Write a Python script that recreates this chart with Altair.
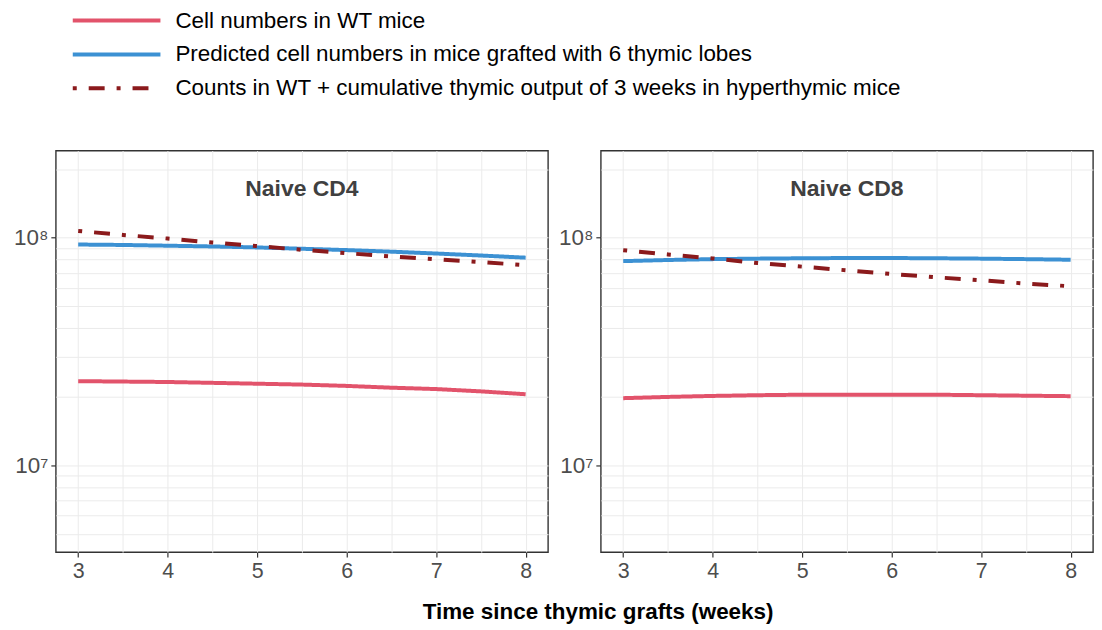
import altair as alt
import pandas as pd

weeks = [3, 3.5, 4, 4.5, 5, 5.5, 6, 6.5, 7, 7.5, 8]
panels = ["Naive CD4", "Naive CD8"]
series_names = [
    "Cell numbers in WT mice",
    "Predicted cell numbers in mice grafted with 6 thymic lobes",
    "Counts in WT + cumulative thymic output of 3 weeks in hyperthymic mice",
]
series_colors = ["#E2536B", "#3C91D3", "#8B1A1C"]
series_dashes = [[1, 0], [1, 0], [4, 12, 16, 12]]

cd4_wt = [2.34e7, 2.33e7, 2.32e7, 2.30e7, 2.28e7, 2.26e7, 2.23e7, 2.19e7, 2.16e7, 2.11e7, 2.05e7]
cd4_grafted = [9.32e7, 9.28e7, 9.21e7, 9.14e7, 9.05e7, 8.93e7, 8.81e7, 8.67e7, 8.51e7, 8.34e7, 8.16e7]
cd4_output = [1.069e8, 1.027e8, 9.90e7, 9.51e7, 9.17e7, 8.84e7, 8.54e7, 8.26e7, 8.02e7, 7.80e7, 7.57e7]
cd8_wt = [1.97e7, 1.995e7, 2.015e7, 2.03e7, 2.04e7, 2.04e7, 2.04e7, 2.04e7, 2.03e7, 2.02e7, 2.01e7]
cd8_grafted = [7.88e7, 7.97e7, 8.04e7, 8.08e7, 8.11e7, 8.13e7, 8.13e7, 8.11e7, 8.08e7, 8.04e7, 7.99e7]
cd8_output = [8.80e7, 8.43e7, 8.10e7, 7.73e7, 7.45e7, 7.18e7, 6.92e7, 6.69e7, 6.49e7, 6.28e7, 6.11e7]

x_ticks = [3, 3.5, 4, 4.5, 5, 5.5, 6, 6.5, 7, 7.5, 8]
y_grid = [5e6, 6e6, 7e6, 8e6, 9e6, 1e7, 2e7, 3e7, 4e7, 5e7, 6e7, 7e7, 8e7, 9e7, 1e8, 2e8]
x_domain = [2.75, 8.25]
y_domain = [4.15e6, 2.41e8]

panel_series = {
    "Naive CD4": [cd4_wt, cd4_grafted, cd4_output],
    "Naive CD8": [cd8_wt, cd8_grafted, cd8_output],
}

FONT = "Liberation Sans"


def panel_df(name):
    rows = []
    for s_idx, (sname, vals) in enumerate(zip(series_names, panel_series[name])):
        for w, v in zip(weeks, vals):
            rows.append({"week": w, "count": v, "series": sname, "order": s_idx})
    return pd.DataFrame(rows)


x_axis = alt.Axis(
    values=x_ticks,
    labelExpr="datum.value % 1 == 0 ? format(datum.value, 'd') : ''",
    tickColor={"condition": {"test": "datum.value % 1 == 0", "value": "#333333"}, "value": "transparent"},
    title=None,
    domain=False,
    grid=True,
)
y_axis = alt.Axis(
    values=y_grid,
    labelExpr="datum.value == 10000000 ? '10⁷' : (datum.value == 100000000 ? '10⁸' : '')",
    tickColor={"condition": {"test": "datum.value == 10000000 || datum.value == 100000000", "value": "#333333"}, "value": "transparent"},
    labelFontSize=22.5,
    title=None,
    domain=False,
    grid=True,
    minExtent=40,
    maxExtent=40,
)

color_scale = alt.Scale(domain=series_names, range=series_colors)
dash_scale = alt.Scale(domain=series_names, range=series_dashes)


def make_panel(name):
    return (
        alt.Chart(panel_df(name))
        .mark_line(strokeWidth=4, clip=True)
        .encode(
            x=alt.X("week:Q", scale=alt.Scale(domain=x_domain, nice=False, zero=False), axis=x_axis),
            y=alt.Y("count:Q", scale=alt.Scale(type="log", domain=y_domain, nice=False), axis=y_axis),
            color=alt.Color("series:N", scale=color_scale, sort=series_names, title=None),
            strokeDash=alt.StrokeDash("series:N", scale=dash_scale, sort=series_names, title=None),
            order=alt.Order("order:Q"),
        )
        .properties(
            width=494,
            height=403,
            title=alt.TitleParams(
                text=name, fontSize=23, fontWeight="bold", color="#404040", font=FONT,
                anchor="middle", baseline="middle", offset=0, dy=62,
            ),
        )
    )


chart = (
    alt.hconcat(make_panel(panels[0]), make_panel(panels[1]), spacing=8)
    .properties(
        title=alt.TitleParams(
            text="Time since thymic grafts (weeks)", orient="bottom", anchor="middle",
            fontSize=22.5, fontWeight="bold", color="black", font=FONT, offset=19, dx=45,
        ),
        padding={"left": 4, "top": 0, "right": 0, "bottom": 0},
    )
    .configure_view(stroke="#333333", strokeWidth=1.4)
    .configure_axis(
        labelFont=FONT, labelFontSize=21.5, labelColor="#4D4D4D", tickSize=5, tickWidth=1.2,
        labelPadding=3, gridColor="#EBEBEB", gridWidth=1,
    )
    .configure_legend(
        orient="none", legendX=15, legendY=-142, direction="vertical",
        symbolType="stroke", symbolSize=7744, symbolStrokeWidth=4, symbolOffset=0,
        labelOffset=13, labelFont=FONT, labelFontSize=22.5, labelColor="black", labelLimit=2000,
        clipHeight=23, rowPadding=11, padding=0, title=None,
    )
)

chart.save("out.html", embed_options={"renderer": "svg", "actions": False})
